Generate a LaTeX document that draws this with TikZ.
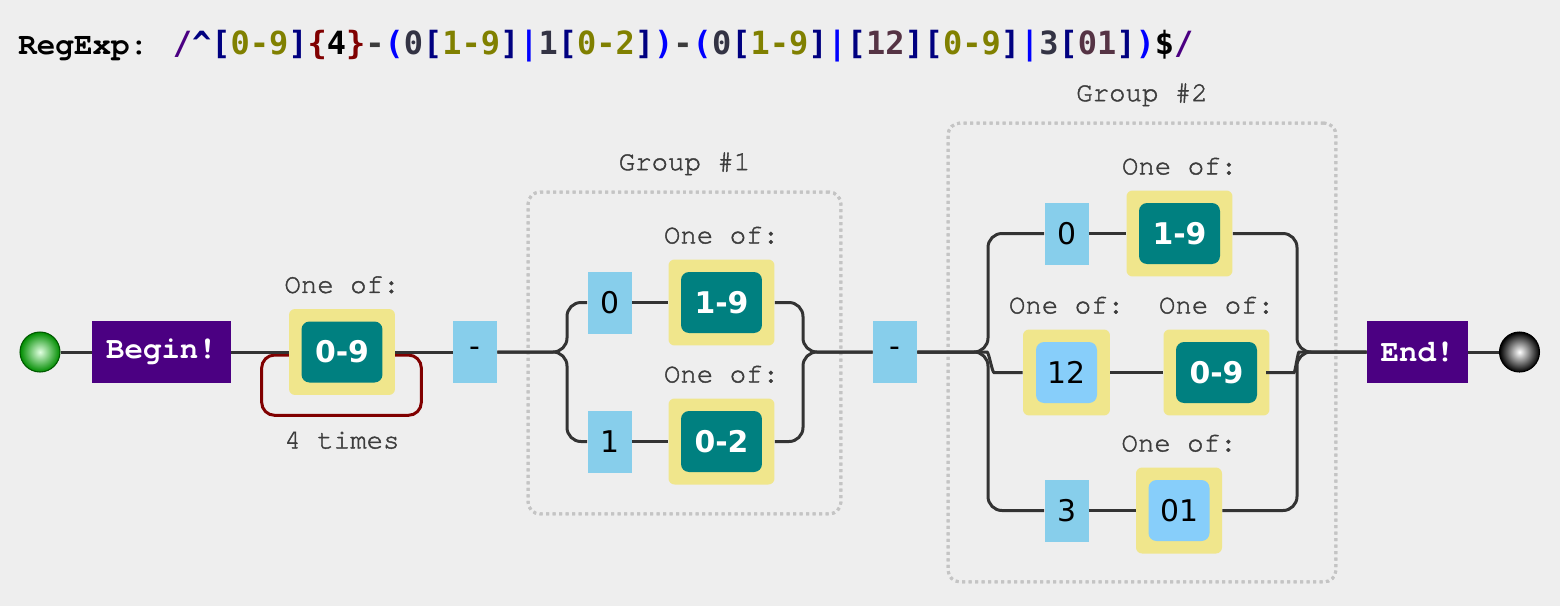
\documentclass[tikz,border=0pt]{standalone}
\usepackage{fontspec}
\newfontfamily\cursorFont{TeX Gyre Cursor}
\newfontfamily\cursorFat[FakeBold=1.5]{TeX Gyre Cursor}
\newfontfamily\boxFont{DejaVu Sans}
\newfontfamily\rxFont{DejaVu Sans Mono}
\usetikzlibrary{calc, positioning}

\definecolor{bgC}{HTML}{EEEEEE}
\definecolor{wireC}{HTML}{333333}
\definecolor{capC}{HTML}{3C3C3C}
\definecolor{indigoC}{HTML}{4B0082}
\definecolor{khakiC}{HTML}{F0E68C}
\definecolor{tealC}{HTML}{008080}
\definecolor{skyC}{HTML}{87CEEB}
\definecolor{lskyC}{HTML}{87CEFA}
\definecolor{maroonC}{HTML}{800000}
\definecolor{dotC}{HTML}{C4C4C4}
\definecolor{navyC}{HTML}{000080}
\definecolor{oliveC}{HTML}{808000}
\definecolor{blueC}{HTML}{0000FF}
\definecolor{litC}{HTML}{333344}
\definecolor{plumC}{HTML}{553344}

\newcommand{\rx}[2]{\textcolor{#1}{#2}}
\newcommand{\rxSet}[2]{\rx{navyC}{[}\rx{#1}{#2}\rx{navyC}{]}}

\pgfdeclarelayer{back}
\pgfsetlayers{back,main}

\tikzset{
  wire/.style = {draw=wireC, line width=0.06cm, rounded corners=0.28cm},
  anchorBox/.style = {fill=indigoC, text=white, inner sep=0, minimum height=1.24cm,
    font=\cursorFont\bfseries\fontsize{17.5}{20}\selectfont},
  litBox/.style = {fill=skyC, inner sep=0, minimum width=0.88cm, minimum height=1.24cm,
    font=\boxFont\fontsize{17}{20}\selectfont},
  classBox/.style = {fill=tealC, text=white, rounded corners=0.16cm, inner sep=0,
    minimum width=1.62cm, minimum height=1.22cm, font=\boxFont\bfseries\fontsize{17}{20}\selectfont},
  setBox/.style = {fill=lskyC, rounded corners=0.16cm, inner sep=0,
    minimum width=1.22cm, minimum height=1.22cm, font=\boxFont\fontsize{17}{20}\selectfont},
  oneOfBox/.style = {fill=khakiC, rounded corners=0.12cm, inner sep=0,
    minimum width=#1, minimum height=1.72cm},
  oneOfBox/.default = 2.12cm,
  captionText/.style = {text=capC, inner sep=0, font=\cursorFat\fontsize{15.6}{18}\selectfont},
  groupBox/.style = {draw=dotC, line width=0.06cm, dash pattern=on 0.06cm off 0.07cm,
    rounded corners=0.24cm, inner sep=0},
  loopLine/.style = {draw=maroonC, line width=0.06cm, rounded corners=0.26cm},
  ballNode/.style = {circle, inner sep=0, minimum size=0.8cm, line width=0.6pt}
}

\begin{document}
\begin{tikzpicture}[x=0.02cm, y=-0.02cm]
  \useasboundingbox (0,0) rectangle (1560,606);

  \node[anchor=west, inner sep=0] (regExp) at (18,46) {\cursorFont\bfseries\fontsize{17.6}{20}\selectfont RegExp: %
    \rxFont\bfseries\fontsize{18.2}{20}\selectfont
    \rx{indigoC}{/}\rx{navyC}{\textasciicircum}\rxSet{oliveC}{0-9}\rx{maroonC}{\{}4\rx{maroonC}{\}}%
    \rx{capC}{-}\rx{blueC}{(}\rx{litC}{0}\rxSet{oliveC}{1-9}\rx{blueC}{|}\rx{litC}{1}\rxSet{oliveC}{0-2}\rx{blueC}{)}%
    \rx{capC}{-}\rx{blueC}{(}\rx{litC}{0}\rxSet{oliveC}{1-9}\rx{blueC}{|}\rxSet{plumC}{12}\rxSet{oliveC}{0-9}%
    \rx{blueC}{|}\rx{litC}{3}\rxSet{plumC}{01}\rx{blueC}{)}\$\rx{indigoC}{/}};

  \node[ballNode, draw=green!35!black, inner color=green!12!white, outer color=green!55!black] (startBall) at (40,352) {};
  \node[anchorBox, minimum width=2.78cm] (beginBox) at ($(startBall) + (121.5,0)$) {Begin!};
  \node[oneOfBox] (oneOfDigits) at ($(beginBox) + (180.5,0)$) {};
  \node[classBox] (digits) at (oneOfDigits) {0-9};
  \node[captionText, above=0.3cm of oneOfDigits] (oneOfDigitsLabel) {One of:};
  \node[captionText, below=0.72cm of oneOfDigits] (timesLabel) {4 times};
  \node[litBox] (dashOne) at ($(oneOfDigits) + (133,0)$) {-};

  % group 1
  \node[groupBox, minimum width=6.26cm, minimum height=6.44cm] (groupOne) at (684.5,353) {};
  \node[captionText, above=0.3cm of groupOne] (groupOneLabel) {Group \#1};
  \node[litBox] (zeroOne) at (609.5,302.5) {0};
  \node[oneOfBox] (oneOfMonthA) at ($(zeroOne) + (112,0)$) {};
  \node[classBox] (monthA) at (oneOfMonthA) {1-9};
  \node[captionText, above=0.3cm of oneOfMonthA] (oneOfMonthALabel) {One of:};
  \node[litBox] (oneOne) at (609.5,441.5) {1};
  \node[oneOfBox] (oneOfMonthB) at ($(oneOne) + (112,0)$) {};
  \node[classBox] (monthB) at (oneOfMonthB) {0-2};
  \node[captionText, above=0.3cm of oneOfMonthB] (oneOfMonthBLabel) {One of:};

  \node[litBox] (dashTwo) at (895,352) {-};

  % group 2
  \node[groupBox, minimum width=7.76cm, minimum height=9.18cm] (groupTwo) at (1142,352.5) {};
  \node[captionText, above=0.3cm of groupTwo] (groupTwoLabel) {Group \#2};
  \node[litBox] (zeroTwo) at (1066.5,233.5) {0};
  \node[oneOfBox] (oneOfDayA) at ($(zeroTwo) + (113,0)$) {};
  \node[classBox] (dayA) at (oneOfDayA) {1-9};
  \node[captionText, above=0.3cm of oneOfDayA] (oneOfDayALabel) {One of:};
  \node[oneOfBox=1.74cm] (oneOfTwelve) at (1066.5,372.5) {};
  \node[setBox] (twelve) at (oneOfTwelve) {12};
  \node[captionText, above=0.3cm of oneOfTwelve] (oneOfTwelveLabel) {One of:};
  \node[oneOfBox] (oneOfDayB) at ($(oneOfTwelve) + (150,0)$) {};
  \node[classBox] (dayB) at (oneOfDayB) {0-9};
  \node[captionText, above=0.3cm of oneOfDayB] (oneOfDayBLabel) {One of:};
  \node[litBox] (threeTwo) at (1066.5,510.5) {3};
  \node[oneOfBox=1.72cm] (oneOfDayC) at ($(threeTwo) + (112.5,0)$) {};
  \node[setBox] (dayC) at (oneOfDayC) {01};
  \node[captionText, above=0.3cm of oneOfDayC] (oneOfDayCLabel) {One of:};

  \node[anchorBox, minimum width=2.02cm] (endBox) at (1417.5,352) {End!};
  \node[ballNode, draw=black, inner color=white, outer color=black] (stopBall) at ($(endBox) + (102,0)$) {};

  \begin{pgfonlayer}{back}
    \fill[bgC] (0,0) rectangle (1560,606);
    \node[groupBox, minimum width=6.26cm, minimum height=6.44cm] at (groupOne) {};
    \node[groupBox, minimum width=7.76cm, minimum height=9.18cm] at (groupTwo) {};
    \draw[loopLine] ($(oneOfDigits.west) + (-27,3)$) rectangle ($(oneOfDigits.south east) + (26,20)$);
  \end{pgfonlayer}

  \coordinate (splitOne) at (567,352);
  \coordinate (joinOne) at (803,352);
  \coordinate (splitTwo) at (988,352);
  \coordinate (joinTwo) at (1297,352);
  \coordinate (forkTwo) at (973,352);
  \coordinate (midInTwo) at (1008,372.5);
  \coordinate (midOutTwo) at (1280,372.5);
  \coordinate (mergeTwo) at (1313,352);

  \draw[wire] (startBall) -- (beginBox);
  \draw[wire] (beginBox) -- (oneOfDigits);
  \draw[wire] (oneOfDigits) -- (dashOne);

  \draw[wire] (dashOne.east) -- (splitOne) |- (zeroOne.west);
  \draw[wire] (dashOne.east) -- (splitOne) |- (oneOne.west);
  \draw[wire] (zeroOne) -- (oneOfMonthA);
  \draw[wire] (oneOne) -- (oneOfMonthB);
  \draw[wire] (oneOfMonthA.east) -| (joinOne) -- (dashTwo.west);
  \draw[wire] (oneOfMonthB.east) -| (joinOne) -- (dashTwo.west);

  \draw[wire] (dashTwo.east) -- (splitTwo) |- (zeroTwo.west);
  \draw[wire] (dashTwo.east) -- (splitTwo) |- (threeTwo.west);
  \draw[wire] (dashTwo.east) -- (forkTwo) to[out=0, in=180] (midInTwo) -- (oneOfTwelve.west);
  \draw[wire] (zeroTwo) -- (oneOfDayA);
  \draw[wire] (oneOfTwelve) -- (oneOfDayB);
  \draw[wire] (threeTwo) -- (oneOfDayC);
  \draw[wire] (oneOfDayA.east) -| (joinTwo) -- (endBox.west);
  \draw[wire] (oneOfDayC.east) -| (joinTwo) -- (endBox.west);
  \draw[wire] (oneOfDayB.east) -- (midOutTwo) to[out=0, in=180] (mergeTwo) -- (endBox.west);

  \draw[wire] (endBox) -- (stopBall);
\end{tikzpicture}
\end{document}
